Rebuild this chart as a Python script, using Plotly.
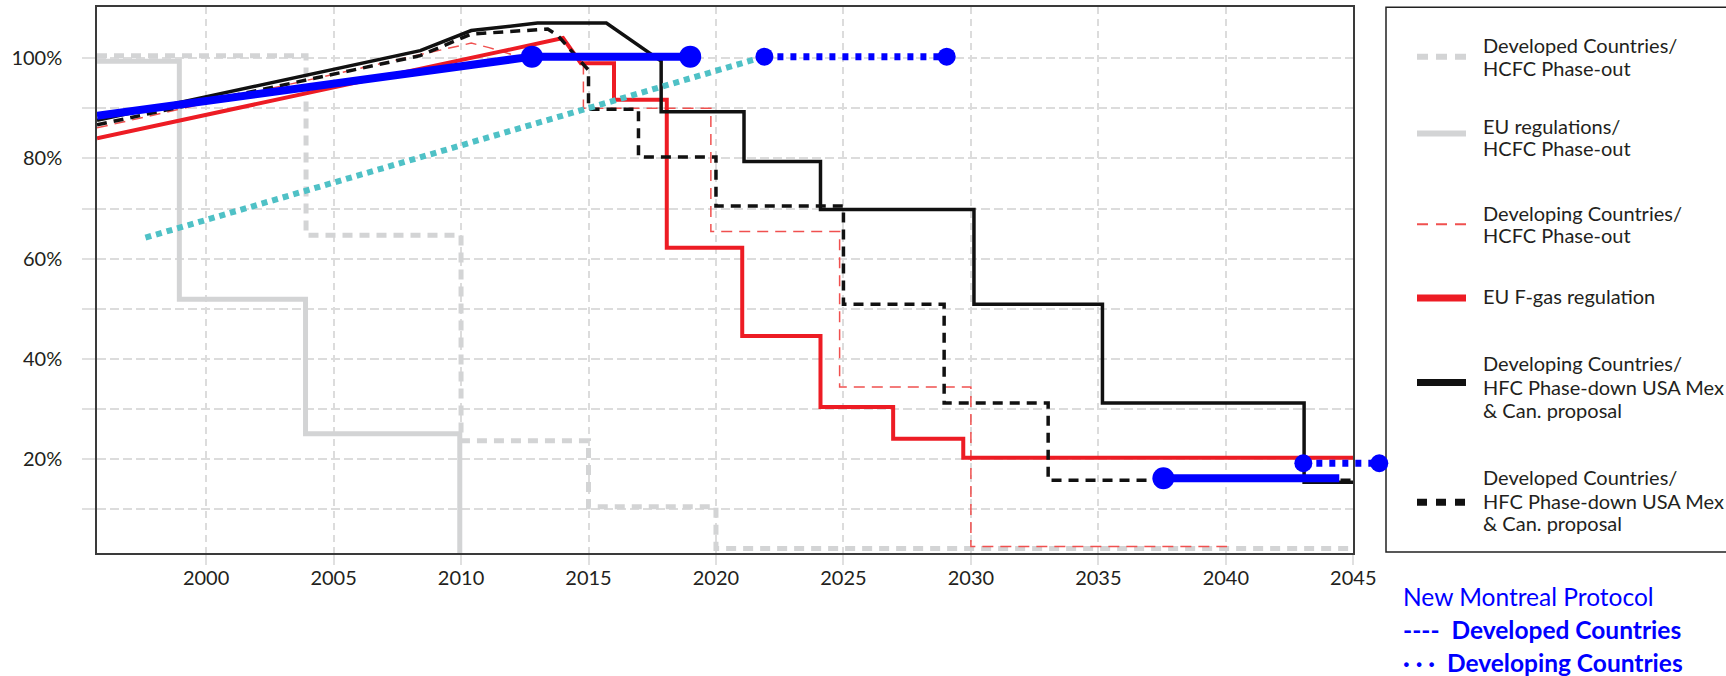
import plotly.graph_objects as go

# ---------------- data ----------------
dev_hcfc_x = [1995.72, 2003.92, 2003.92, 2010.0, 2010.0, 2015.0, 2015.0, 2020.0, 2020.0, 2045.0]
dev_hcfc_y = [100.5, 100.5, 64.7, 64.7, 23.7, 23.7, 10.5, 10.5, 2.2, 2.2]

eu_hcfc_x = [1995.72, 1998.95, 1998.95, 2003.9, 2003.9, 2009.95, 2009.95]
eu_hcfc_y = [99.4, 99.4, 51.9, 51.9, 25.1, 25.1, 0.0]

dvg_hcfc_x = [1995.72, 2010.4, 2011.1, 2012.2, 2014.8, 2014.8, 2019.8, 2019.8, 2024.85, 2024.85, 2030.0, 2030.0, 2040.05]
dvg_hcfc_y = [86.1, 103.0, 102.1, 100.4, 100.2, 90.0, 90.0, 65.4, 65.4, 34.4, 34.4, 2.6, 2.6]

eu_fgas_x = [1995.72, 2014.0, 2014.7, 2016.0, 2016.0, 2018.07, 2018.07, 2021.03, 2021.03, 2024.1, 2024.1,
             2026.95, 2026.95, 2029.7, 2029.7, 2045.0]
eu_fgas_y = [84.0, 104.0, 99.0, 99.0, 91.7, 91.7, 62.2, 62.2, 44.6, 44.6, 30.4, 30.4, 24.1, 24.1, 20.3, 20.3]

dvg_hfc_x = [1995.72, 2002.4, 2008.4, 2010.4, 2013.0, 2015.7, 2017.85, 2017.85, 2021.1, 2021.1, 2024.1, 2024.1,
             2030.12, 2030.12, 2035.16, 2035.16, 2043.07, 2043.07, 2045.0]
dvg_hfc_y = [87.6, 95.0, 101.5, 105.5, 107.0, 107.0, 99.4, 89.3, 89.3, 79.4, 79.4, 69.8, 69.8, 50.9, 50.9,
             31.2, 31.2, 15.4, 15.4]

dev_hfc_x = [1995.72, 2008.4, 2010.4, 2013.4, 2013.8, 2015.0, 2015.0, 2016.96, 2016.96, 2020.0, 2020.0,
             2025.0, 2025.0, 2028.95, 2028.95, 2033.03, 2033.03, 2045.0]
dev_hfc_y = [86.7, 100.5, 104.8, 105.8, 104.5, 97.6, 89.8, 89.8, 80.3, 80.3, 70.5, 70.5, 50.9, 50.9,
             31.2, 31.2, 15.8, 15.8]

mp_dev_a_x = [1995.72, 2012.78, 2018.99]
mp_dev_a_y = [88.5, 100.3, 100.3]
mp_dev_b_x = [2037.55, 2044.45]
mp_dev_b_y = [16.2, 16.2]

mp_dvg_a_x = [2021.9, 2029.05]
mp_dvg_a_y = [100.3, 100.3]
mp_dvg_b_x = [2043.04, 2046.02]
mp_dvg_b_y = [19.2, 19.2]

trend_x = [1997.62, 2021.9]
trend_y = [64.2, 100.3]

x_ticks = list(range(2000, 2050, 5))
y_ticks = list(range(10, 110, 10))
y_labels = [f"{v}%" if v % 20 == 0 else "" for v in y_ticks]

legend_items = [
    ["Developed Countries/", "HCFC Phase-out"],
    ["EU regulations/", "HCFC Phase-out"],
    ["Developing Countries/", "HCFC Phase-out"],
    ["EU F-gas regulation"],
    ["Developing Countries/", "HFC Phase-down USA Mex", "& Can. proposal"],
    ["Developed Countries/", "HFC Phase-down USA Mex", "& Can. proposal"],
]

# ---------------- geometry ----------------
W, H = 1726, 676
ML, MR, MT, MB = 97, 326, 5, 123
PW = W - ML - MR
PH = H - MT - MB


def px_x(px):
    return (px - ML) / PW


def px_y(py):
    return (H - MB - py) / PH


X0, X1 = 1995.72, 2045.0
Y0, Y1 = 1.3, 110.2
xdom = px_x(1353.3)
x2_end = X0 + (X1 - X0) / xdom

GRAY = "#d3d4d5"
RED = "#ed1c24"
RED_L = "#f0504f"
BLACK = "#111111"
BLUE = "#0000ff"
CYAN = "#4fc1c6"
TXT = "#231f20"
FONT = "Lato"

fig = go.Figure()


def line(x, y, color, width, dash="solid", xa="x", ya="y", mode="lines", msize=None):
    kw = dict(x=x, y=y, mode=mode, xaxis=xa, yaxis=ya, showlegend=False, hoverinfo="skip",
              line=dict(color=color, width=width, dash=dash), opacity=1)
    if msize is not None:
        kw["marker"] = dict(color=color, size=msize, opacity=1, line=dict(width=0))
    fig.add_trace(go.Scatter(**kw))


line(dev_hcfc_x, dev_hcfc_y, GRAY, 5, "10px,7px")
line(eu_hcfc_x, eu_hcfc_y, GRAY, 5)
line(dvg_hcfc_x, dvg_hcfc_y, RED_L, 1.5, "11px,7px")
line(eu_fgas_x, eu_fgas_y, RED, 4)
line(dvg_hfc_x, dvg_hfc_y, BLACK, 3.5)
line(dev_hfc_x, dev_hfc_y, BLACK, 3.5, "10px,7px")
line(trend_x, trend_y, CYAN, 6, "6px,5px")
line(mp_dev_a_x, mp_dev_a_y, BLUE, 8, mode="lines+markers", msize=[0, 22, 22])
line(mp_dev_b_x, mp_dev_b_y, BLUE, 8, mode="lines+markers", msize=[22, 0])
line(mp_dvg_a_x, mp_dvg_a_y, BLUE, 7, "6px,7px", mode="lines+markers", msize=[18, 18])
line(mp_dvg_b_x, mp_dvg_b_y, BLUE, 7, "6px,7px", xa="x2", ya="y2", mode="lines+markers", msize=[18, 18])

tickfont = dict(family=FONT, size=20, color=TXT)

fig.update_layout(
    width=W, height=H,
    margin=dict(l=ML, r=MR, t=MT, b=MB, pad=0),
    paper_bgcolor="white", plot_bgcolor="rgba(0,0,0,0)",
    showlegend=False,
    xaxis=dict(domain=[0, xdom], range=[X0, X1], tickmode="array", tickvals=x_ticks,
               ticktext=[str(v) for v in x_ticks], showgrid=True, gridcolor="#dcdcdc", gridwidth=2,
               griddash="7px,5px", zeroline=False, showline=True, linecolor="#3a3a3a", linewidth=1.5,
               mirror=True, ticks="outside", ticklen=10, tickwidth=2, tickcolor="#e0e0e0",
               tickfont=tickfont, ticklabelstandoff=-4, anchor="y"),
    yaxis=dict(domain=[0, 1], range=[Y0, Y1], tickmode="array", tickvals=y_ticks, ticktext=y_labels,
               showgrid=True, gridcolor="#dcdcdc", gridwidth=2, griddash="9px,4px", zeroline=False,
               showline=True, linecolor="#3a3a3a", linewidth=1.5, mirror=True, ticks="outside",
               ticklen=13, tickwidth=2, tickcolor="#e0e0e0", tickfont=tickfont,
               ticklabelstandoff=16, anchor="x"),
    xaxis2=dict(domain=[0, 1], range=[X0, x2_end], visible=False, anchor="y2"),
    yaxis2=dict(domain=[0, 1], range=[Y0, Y1], visible=False, anchor="x2"),
)

# ---------------- manual legend ----------------
shapes = [dict(type="rect", xref="paper", yref="paper", x0=px_x(1386), x1=px_x(1760),
               y0=px_y(552), y1=px_y(5.3), line=dict(color="#222222", width=1.5), layer="below")]
samples = [
    (55, GRAY, 6, "11px,8px"),
    (132, GRAY, 6, "solid"),
    (223, RED_L, 2, "11px,8px"),
    (297, RED, 7, "solid"),
    (382, BLACK, 7, "solid"),
    (502, BLACK, 7, "10px,9px"),
]
for yy, c, w, d in samples:
    shapes.append(dict(type="line", xref="paper", yref="paper", x0=px_x(1417), x1=px_x(1466),
                       y0=px_y(yy), y1=px_y(yy), line=dict(color=c, width=w, dash=d)))
fig.update_layout(shapes=shapes)

text_rows = [[43, 66], [124, 147], [212, 234], [295], [362, 386, 409], [477, 501, 523]]
annotations = []
for item, rows in zip(legend_items, text_rows):
    for txt, yy in zip(item, rows):
        annotations.append(dict(xref="paper", yref="paper", x=px_x(1481), y=px_y(yy), text=txt,
                                showarrow=False, xanchor="left", yanchor="middle",
                                font=dict(family=FONT, size=20, color=TXT)))

note_lines = [
    (597, "New Montreal Protocol"),
    (630, "<b>----  Developed Countries</b>"),
    (663, "<b>· · ·  Developing Countries</b>"),
]
for yy, txt in note_lines:
    annotations.append(dict(xref="paper", yref="paper", x=px_x(1401), y=px_y(yy), text=txt,
                            showarrow=False, xanchor="left", yanchor="middle",
                            font=dict(family=FONT, size=24.5, color=BLUE)))
fig.update_layout(annotations=annotations)

fig.write_html("out.html", config={"displayModeBar": False},
               post_script="document.body.style.margin='0';document.body.style.padding='0';")
